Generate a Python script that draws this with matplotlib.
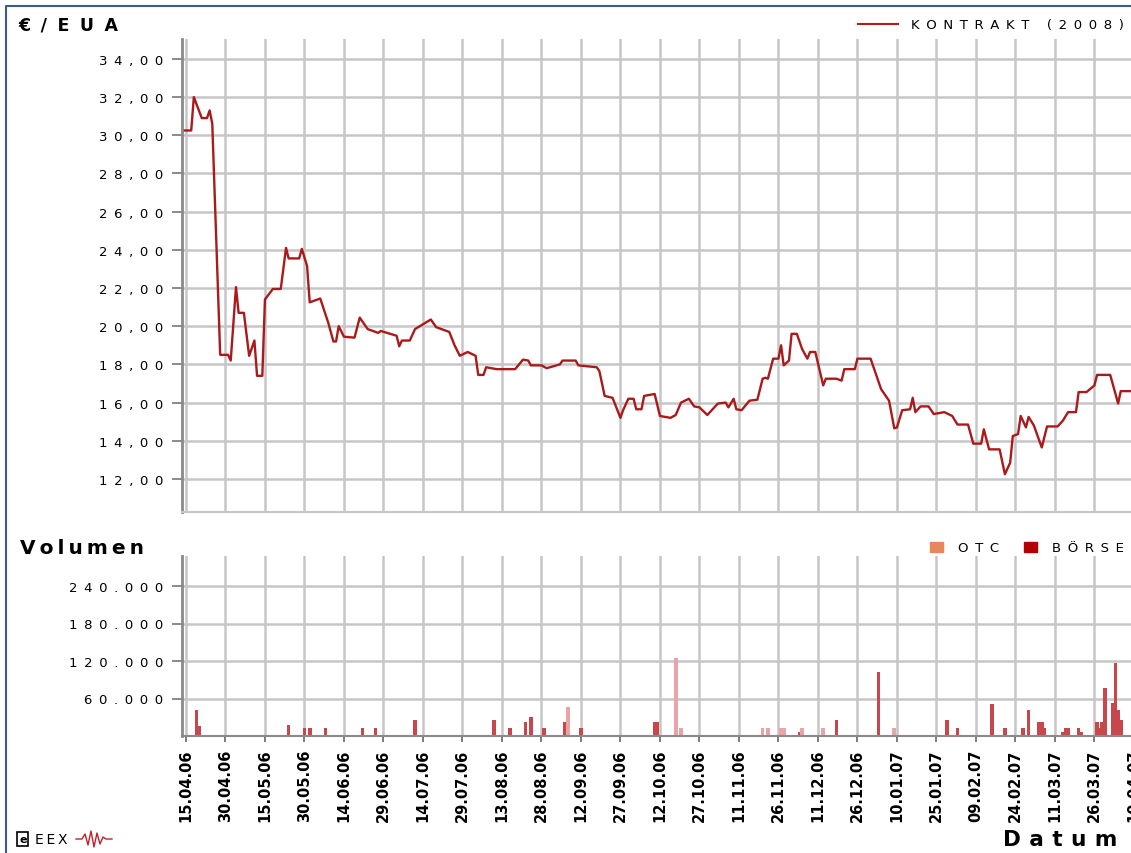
import pandas as pd
import matplotlib
matplotlib.use('Agg')
import matplotlib.pyplot as plt
from matplotlib.lines import Line2D
from matplotlib.patches import Rectangle

W, H = 1131, 854

# Kontrakt (2008) price (date, EUR/EUA)
price_dates = [
    "13.04.06", "17.04.06", "18.04.06", "21.04.06", "23.04.06", "24.04.06", "25.04.06", "28.04.06",
    "01.05.06", "02.05.06", "04.05.06", "05.05.06", "07.05.06", "09.05.06", "11.05.06", "12.05.06",
    "14.05.06", "15.05.06", "18.05.06", "21.05.06", "23.05.06", "24.05.06", "28.05.06", "29.05.06", "31.05.06",
    "01.06.06", "05.06.06", "08.06.06", "10.06.06", "11.06.06", "12.06.06", "14.06.06", "18.06.06",
    "20.06.06", "23.06.06", "27.06.06", "28.06.06",
    "04.07.06", "05.07.06", "06.07.06", "09.07.06", "11.07.06", "14.07.06", "17.07.06", "19.07.06",
    "24.07.06", "26.07.06", "28.07.06", "31.07.06",
    "03.08.06", "04.08.06", "06.08.06", "07.08.06", "11.08.06", "18.08.06", "21.08.06", "23.08.06",
    "24.08.06", "28.08.06", "30.08.06",
    "04.09.06", "05.09.06", "10.09.06", "11.09.06", "18.09.06", "19.09.06", "21.09.06", "24.09.06",
    "27.09.06", "28.09.06", "30.09.06",
    "02.10.06", "03.10.06", "05.10.06", "06.10.06", "10.10.06", "12.10.06", "16.10.06", "18.10.06",
    "20.10.06", "23.10.06", "25.10.06", "27.10.06", "30.10.06",
    "01.11.06", "03.11.06", "06.11.06", "07.11.06", "09.11.06", "10.11.06", "12.11.06", "15.11.06",
    "18.11.06", "20.11.06", "21.11.06", "22.11.06", "24.11.06", "26.11.06", "27.11.06", "28.11.06", "30.11.06",
    "01.12.06", "03.12.06", "05.12.06", "07.12.06", "08.12.06", "10.12.06", "13.12.06", "14.12.06",
    "18.12.06", "20.12.06", "21.12.06", "25.12.06", "26.12.06", "31.12.06",
    "04.01.07", "07.01.07", "09.01.07", "10.01.07", "12.01.07", "15.01.07", "16.01.07", "17.01.07",
    "19.01.07", "22.01.07", "24.01.07", "28.01.07", "31.01.07",
    "02.02.07", "06.02.07", "08.02.07", "11.02.07", "12.02.07", "14.02.07", "18.02.07", "20.02.07",
    "22.02.07", "23.02.07", "25.02.07", "26.02.07", "28.02.07",
    "01.03.07", "03.03.07", "06.03.07", "08.03.07", "12.03.07", "14.03.07", "16.03.07", "19.03.07",
    "20.03.07", "23.03.07", "26.03.07", "27.03.07",
    "01.04.07", "04.04.07", "05.04.07", "09.04.07", "12.04.07",
]
price_values = [
    30.25, 30.25, 32.0, 30.9, 30.9, 31.3, 30.6, 18.5,
    18.5, 18.2, 22.05, 20.7, 20.7, 18.45, 19.25, 17.4,
    17.4, 21.4, 21.95, 21.95, 24.1, 23.55, 23.55, 24.05, 23.15,
    21.25, 21.45, 20.2, 19.2, 19.2, 20.0, 19.45, 19.4,
    20.45, 19.85, 19.65, 19.75,
    19.5, 18.95, 19.25, 19.25, 19.85, 20.1, 20.35, 19.95,
    19.7, 19.0, 18.45, 18.65,
    18.45, 17.45, 17.45, 17.85, 17.75, 17.75, 18.25, 18.2,
    17.95, 17.95, 17.8,
    18.0, 18.2, 18.2, 17.95, 17.85, 17.65, 16.35, 16.25,
    15.2, 15.6, 16.2,
    16.2, 15.65, 15.65, 16.35, 16.45, 15.3, 15.2, 15.35,
    16.0, 16.2, 15.8, 15.75, 15.35,
    15.65, 15.95, 16.0, 15.75, 16.2, 15.65, 15.6, 16.1,
    16.15, 17.25, 17.3, 17.25, 18.3, 18.3, 19.0, 17.95, 18.2,
    19.6, 19.6, 18.8, 18.3, 18.65, 18.65, 16.9, 17.25,
    17.25, 17.15, 17.75, 17.75, 18.3, 18.3,
    16.7, 16.1, 14.65, 14.7, 15.6, 15.65, 16.25, 15.5,
    15.8, 15.8, 15.4, 15.5, 15.3,
    14.85, 14.85, 13.85, 13.85, 14.6, 13.55, 13.55, 12.25,
    12.85, 14.25, 14.35, 15.3, 14.7,
    15.25, 14.8, 13.65, 14.75, 14.75, 15.05, 15.5, 15.5,
    16.55, 16.55, 16.9, 17.45,
    17.45, 15.95, 16.6, 16.6, 16.6,
]

# volumes
boerse_dates = [
    "19.04.06", "20.04.06", "24.05.06", "30.05.06", "01.06.06", "07.06.06", "21.06.06", "26.06.06",
    "11.07.06", "10.08.06", "16.08.06", "22.08.06", "24.08.06", "29.08.06", "06.09.06", "12.09.06",
    "10.10.06", "11.10.06", "04.12.06", "18.12.06", "03.01.07", "29.01.07", "02.02.07", "15.02.07",
    "20.02.07", "27.02.07", "01.03.07", "05.03.07", "06.03.07", "07.03.07", "14.03.07", "15.03.07",
    "16.03.07", "20.03.07", "21.03.07", "27.03.07", "28.03.07", "29.03.07", "30.03.07", "02.04.07",
    "03.04.07", "04.04.07", "05.04.07",
]
boerse_values = [
    41600, 16500, 17600, 12800, 12800, 12300, 12300, 12300,
    26100, 26100, 12300, 21900, 30400, 12300, 21900, 12300,
    22400, 22400, 6900, 25600, 101900, 25600, 12300, 51700,
    12300, 12300, 41600, 21900, 21900, 12300, 7000, 12300,
    12300, 12300, 6500, 21900, 12300, 21900, 76300, 52300,
    116800, 41600, 26400,
]
otc_dates = ["07.09.06", "18.10.06", "20.10.06", "20.11.06", "22.11.06", "27.11.06",
             "28.11.06", "05.12.06", "13.12.06", "09.01.07"]
otc_values = [46900, 125300, 12300, 12300, 12300, 12300, 12300, 12300, 12300, 12300]

tick_dates = pd.date_range("2006-04-15", periods=25, freq="15D")
price_ticks = list(range(12, 35, 2))
vol_ticks = [60000, 120000, 180000, 240000]

to_dt = lambda s: pd.to_datetime(s, format="%d.%m.%y")


def spaced(s, gap="\u2002"):
    return gap.join(s)


def px(x, y):
    return x / W, 1 - y / H


grid_c = '#c6c6c6'
spine_c = '#8a8a8a'
xlim = (pd.Timestamp("2006-04-13 12:00"), pd.Timestamp("2007-04-12 12:00"))

fig = plt.figure(figsize=(W / 100, H / 100), dpi=100)
ax1 = fig.add_axes([182 / W, 1 - 513 / H, 958.5 / W, (513 - 40) / H])
ax2 = fig.add_axes([182 / W, 1 - 737 / H, 958.5 / W, (737 - 557) / H])

for ax in (ax1, ax2):
    ax.set_xlim(*xlim)
    ax.set_xticks(tick_dates)
    ax.set_axisbelow(True)
    ax.grid(True, color=grid_c, lw=1.8)
    for side in ('top', 'right'):
        ax.spines[side].set_visible(False)
    ax.spines['left'].set_color(spine_c)
    ax.spines['left'].set_linewidth(2)
    ax.tick_params(axis='y', length=7, width=1.2, color='#777777', pad=6.5, labelsize=9.5)

# price panel
ax1.plot(to_dt(price_dates), price_values, color='#aa1a1a', lw=1.7)
ax1.set_ylim(10.27, 35.04)
ax1.set_yticks(price_ticks)
ax1.set_yticklabels([spaced(f"{v:.2f}".replace('.', ',')) for v in price_ticks])
ax1.spines['bottom'].set_color(grid_c)
ax1.spines['bottom'].set_linewidth(1.5)
ax1.tick_params(axis='x', length=0, labelbottom=False)

# volume panel
ax2.bar(to_dt(boerse_dates), boerse_values, width=1.4, color='#c8474c', lw=0)
ax2.bar(to_dt(otc_dates), otc_values, width=1.4, color='#e8a4a7', lw=0)
ax2.set_ylim(0, 288000)
ax2.set_yticks(vol_ticks)
ax2.set_yticklabels([spaced(f"{v:,}".replace(',', '.')) for v in vol_ticks])
ax2.spines['bottom'].set_color(spine_c)
ax2.spines['bottom'].set_linewidth(1.5)
ax2.set_xticklabels([d.strftime("%d.%m.%y") for d in tick_dates], rotation=90,
                    fontsize=10.5, fontweight='bold')
ax2.tick_params(axis='x', length=4, width=1.2, color='#666666', pad=5)

# titles and legends
fig.text(*px(18, 26), spaced("€/EUA", "\u2002\u200a"), fontsize=12.5, fontweight='bold', va='center')
fig.text(*px(20, 548), spaced("Volumen", "\u2009"), fontsize=14.5, fontweight='bold', va='center')
fig.text(*px(1003, 840), spaced("Datum", "\u2009\u2009"), fontsize=15.5, fontweight='bold', va='center')

fig.add_artist(Line2D([858 / W, 898 / W], [1 - 25 / H] * 2, color='#b41c1c', lw=1.5))
fig.text(*px(911, 25), spaced("KONTRAKT (2008)"), fontsize=9.5, va='center')

for x0, col, lab in [(930, '#e8875c', "OTC"), (1024, '#b40000', "BÖRSE")]:
    fig.add_artist(Rectangle(px(x0, 553), 13 / W, 10 / H, color=col, transform=fig.transFigure))
    fig.text(*px(x0 + 28, 548), spaced(lab), fontsize=9.5, va='center')

# outer frame
fig.add_artist(Line2D([6 / W, 6 / W, 1.0], [0, 1 - 7 / H, 1 - 7 / H], color='#3d5a88', lw=1.5))

# EEX logo
fig.text(*px(19, 840), "e", fontsize=8, fontweight='bold', va='center',
         bbox=dict(boxstyle='square,pad=0.15', fc='white', ec='black', lw=1.2))
fig.text(*px(35, 840), spaced("EEX", "\u2009"), fontsize=10, va='center')
wave_x = [76, 82, 85, 88, 91, 94, 97, 100, 103, 106, 112]
wave_y = [840, 840, 835, 846, 832, 848, 834, 845, 838, 840, 840]
fig.add_artist(Line2D([x / W for x in wave_x], [1 - y / H for y in wave_y], color='#c0202a', lw=1))

fig.savefig("out.png", dpi=100)
